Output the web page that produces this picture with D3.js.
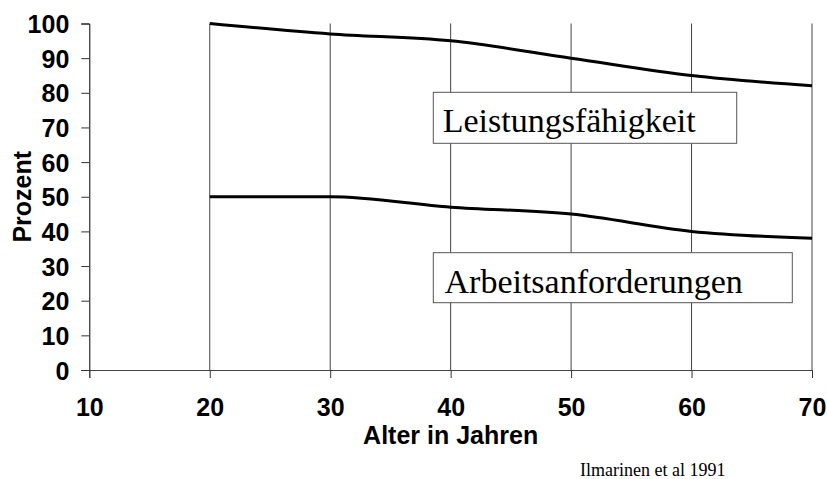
<!DOCTYPE html>
<html>
<head>
<meta charset="utf-8">
<script src="https://cdn.jsdelivr.net/npm/d3@7"></script>
<style>
  body { margin: 0; background: #fff; }
  .tick text { font-family: "Liberation Sans", Arial, sans-serif; font-weight: bold; font-size: 25px; fill: #000; }
</style>
</head>
<body>
<div id="chart"></div>
<script>
// data
let ages = [20, 30, 40, 50, 60, 70];
let leistung = [100, 97, 95, 90, 85, 82];
let anforderung = [50, 50, 47, 45, 40, 38];
let xTicks = [10, 20, 30, 40, 50, 60, 70];
let yTicks = [0, 10, 20, 30, 40, 50, 60, 70, 80, 90, 100];

let width = 827, height = 479;
let margin = {top: 23.5, right: 15, bottom: 109, left: 89.3};

let svg = d3.select("#chart")
    .append("svg")
    .attr("width", width)
    .attr("height", height);

let x = d3.scaleLinear()
    .domain([10, 70])
    .range([margin.left, width - margin.right]);

let y = d3.scaleLinear()
    .domain([0, 100])
    .range([height - margin.bottom, margin.top]);

// vertical grid lines
svg.append("g")
    .selectAll("line")
    .data(ages)
    .join("line")
    .attr("x1", d => x(d)).attr("x2", d => x(d))
    .attr("y1", y(0)).attr("y2", y(100))
    .attr("stroke", "#444")
    .attr("stroke-width", 1);

// y axis
let yAxis = svg.append("g")
    .attr("transform", "translate(" + x(10) + ",0)")
    .call(d3.axisLeft(y).tickValues(yTicks).tickSize(8).tickPadding(12));
yAxis.select(".domain").attr("stroke", "#000");
yAxis.selectAll(".tick line").attr("stroke", "#333");
yAxis.selectAll(".tick text").attr("dy", "0.36em");

// x axis
let xAxis = svg.append("g")
    .attr("transform", "translate(0," + y(0) + ")")
    .call(d3.axisBottom(x).tickValues(xTicks).tickSize(8).tickPadding(20));
xAxis.select(".domain").attr("stroke", "#444");
xAxis.selectAll(".tick line").attr("stroke", "#333");

// lines
let line = d3.line()
    .x((d, i) => x(ages[i]))
    .y(d => y(d))
    .curve(d3.curveMonotoneX);

[leistung, anforderung].forEach(s => {
    svg.append("path")
        .datum(s)
        .attr("fill", "none")
        .attr("stroke", "#000")
        .attr("stroke-width", 3)
        .attr("d", line);
});

// label boxes
let boxes = [
    {text: "Leistungsfähigkeit", x0: 433.3, x1: 736.7, y0: 92.3, y1: 143.3, tx: 442.7, ty: 131.5},
    {text: "Arbeitsanforderungen", x0: 433.3, x1: 792.3, y0: 252.7, y1: 302.7, tx: 444.5, ty: 292.5}
];
boxes.forEach(b => {
    svg.append("rect")
        .attr("x", b.x0).attr("y", b.y0)
        .attr("width", b.x1 - b.x0).attr("height", b.y1 - b.y0)
        .attr("fill", "#fff")
        .attr("stroke", "#555")
        .attr("stroke-width", 1);
    svg.append("text")
        .attr("x", b.tx).attr("y", b.ty)
        .attr("font-family", "Liberation Serif, 'Times New Roman', serif")
        .attr("font-size", 34)
        .attr("fill", "#000")
        .text(b.text);
});

// axis titles
svg.append("text")
    .attr("transform", "translate(31," + (y(0) + y(100)) / 2 + ") rotate(-90)")
    .attr("text-anchor", "middle")
    .attr("font-family", "Liberation Sans, Arial, sans-serif")
    .attr("font-weight", "bold")
    .attr("font-size", 25)
    .text("Prozent");

svg.append("text")
    .attr("x", (x(10) + x(70)) / 2)
    .attr("y", 443.5)
    .attr("text-anchor", "middle")
    .attr("font-family", "Liberation Sans, Arial, sans-serif")
    .attr("font-weight", "bold")
    .attr("font-size", 25)
    .text("Alter in Jahren");

svg.append("text")
    .attr("x", 580)
    .attr("y", 476)
    .attr("font-family", "Liberation Serif, 'Times New Roman', serif")
    .attr("font-size", 18)
    .text("Ilmarinen et al 1991");
</script>
</body>
</html>
